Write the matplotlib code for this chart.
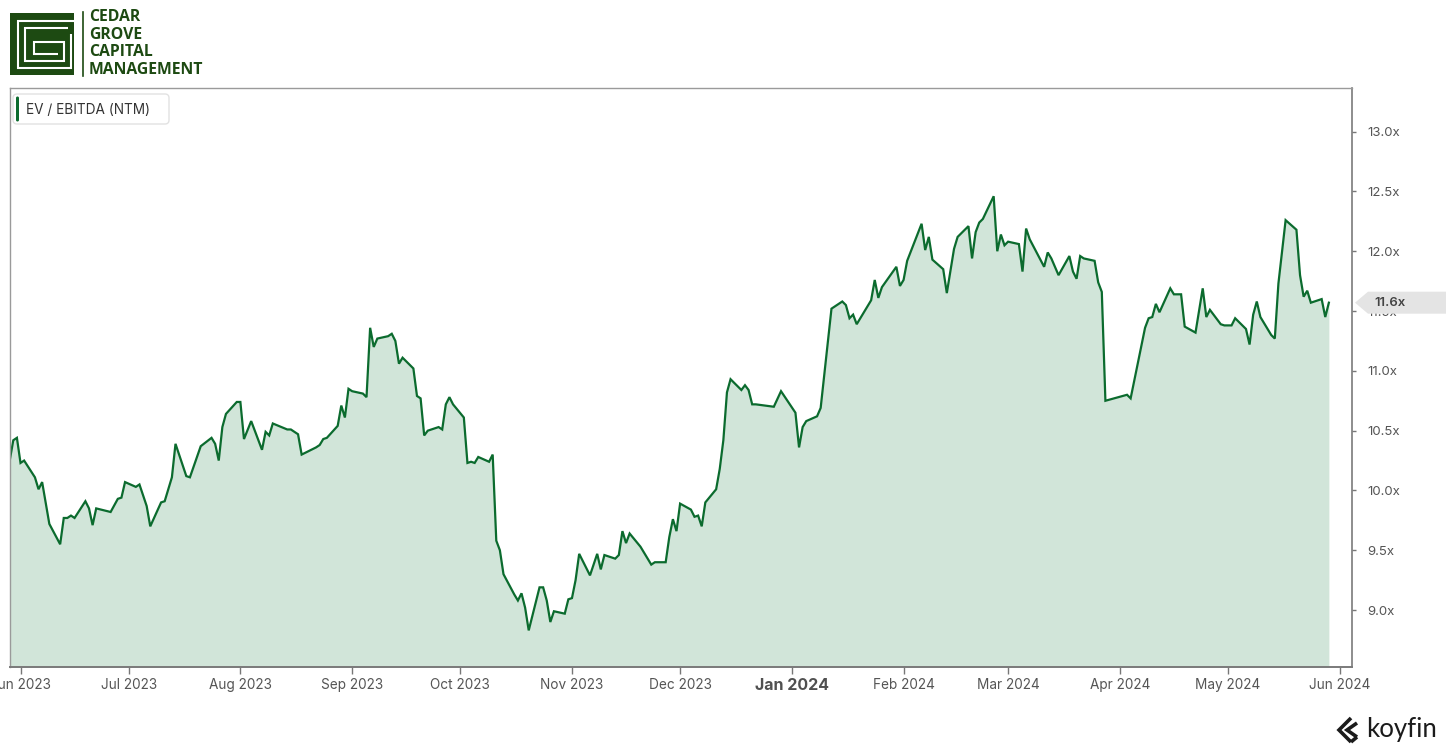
import pandas as pd
import numpy as np
import matplotlib
matplotlib.use("Agg")
import matplotlib.pyplot as plt
import matplotlib.dates as mdates
from matplotlib.patches import Polygon, FancyBboxPatch, Rectangle

# EV / EBITDA (NTM)
dates = [
    "2023-05-29", "2023-05-30", "2023-05-31", "2023-06-01", "2023-06-02", "2023-06-05",
    "2023-06-06", "2023-06-07", "2023-06-09", "2023-06-12", "2023-06-13", "2023-06-14",
    "2023-06-15", "2023-06-16", "2023-06-19", "2023-06-20", "2023-06-21", "2023-06-22",
    "2023-06-26", "2023-06-28", "2023-06-29", "2023-06-30", "2023-07-03", "2023-07-04",
    "2023-07-06", "2023-07-07", "2023-07-10", "2023-07-11", "2023-07-13", "2023-07-14",
    "2023-07-17", "2023-07-18", "2023-07-21", "2023-07-24", "2023-07-25", "2023-07-26",
    "2023-07-27", "2023-07-28", "2023-07-31", "2023-08-01", "2023-08-02", "2023-08-04",
    "2023-08-07", "2023-08-08", "2023-08-09", "2023-08-10", "2023-08-14", "2023-08-15",
    "2023-08-17", "2023-08-18", "2023-08-22", "2023-08-23", "2023-08-24", "2023-08-25",
    "2023-08-28", "2023-08-29", "2023-08-30", "2023-08-31", "2023-09-01", "2023-09-04",
    "2023-09-05", "2023-09-06", "2023-09-07", "2023-09-08", "2023-09-11", "2023-09-12",
    "2023-09-13", "2023-09-14", "2023-09-15", "2023-09-18", "2023-09-19", "2023-09-20",
    "2023-09-21", "2023-09-22", "2023-09-25", "2023-09-26", "2023-09-27", "2023-09-28",
    "2023-09-29", "2023-10-02", "2023-10-03", "2023-10-04", "2023-10-05", "2023-10-06",
    "2023-10-09", "2023-10-10", "2023-10-11", "2023-10-12", "2023-10-13", "2023-10-16",
    "2023-10-17", "2023-10-18", "2023-10-19", "2023-10-20", "2023-10-23", "2023-10-24",
    "2023-10-25", "2023-10-26", "2023-10-27", "2023-10-30", "2023-10-31", "2023-11-01",
    "2023-11-02", "2023-11-03", "2023-11-06", "2023-11-08", "2023-11-09", "2023-11-10",
    "2023-11-13", "2023-11-14", "2023-11-15", "2023-11-16", "2023-11-17", "2023-11-20",
    "2023-11-23", "2023-11-24", "2023-11-27", "2023-11-28", "2023-11-29", "2023-11-30",
    "2023-12-01", "2023-12-04", "2023-12-05", "2023-12-06", "2023-12-07", "2023-12-08",
    "2023-12-11", "2023-12-12", "2023-12-13", "2023-12-14", "2023-12-15", "2023-12-18",
    "2023-12-19", "2023-12-20", "2023-12-21", "2023-12-22", "2023-12-27", "2023-12-29",
    "2024-01-02", "2024-01-03", "2024-01-04", "2024-01-05", "2024-01-08", "2024-01-09",
    "2024-01-12", "2024-01-15", "2024-01-16", "2024-01-17", "2024-01-18", "2024-01-19",
    "2024-01-23", "2024-01-24", "2024-01-25", "2024-01-26", "2024-01-30", "2024-01-31",
    "2024-02-01", "2024-02-02", "2024-02-06", "2024-02-07", "2024-02-08", "2024-02-09",
    "2024-02-12", "2024-02-13", "2024-02-15", "2024-02-16", "2024-02-19", "2024-02-20",
    "2024-02-21", "2024-02-22", "2024-02-23", "2024-02-26", "2024-02-27", "2024-02-28",
    "2024-02-29", "2024-03-01", "2024-03-04", "2024-03-05", "2024-03-06", "2024-03-07",
    "2024-03-11", "2024-03-12", "2024-03-13", "2024-03-15", "2024-03-18", "2024-03-19",
    "2024-03-20", "2024-03-21", "2024-03-22", "2024-03-25", "2024-03-26", "2024-03-27",
    "2024-03-28", "2024-04-03", "2024-04-04", "2024-04-08", "2024-04-09", "2024-04-10",
    "2024-04-11", "2024-04-12", "2024-04-15", "2024-04-16", "2024-04-18", "2024-04-19",
    "2024-04-22", "2024-04-24", "2024-04-25", "2024-04-26", "2024-04-29", "2024-04-30",
    "2024-05-02", "2024-05-03", "2024-05-06", "2024-05-07", "2024-05-08", "2024-05-09",
    "2024-05-10", "2024-05-13", "2024-05-14", "2024-05-15", "2024-05-17", "2024-05-20",
    "2024-05-21", "2024-05-22", "2024-05-23", "2024-05-24", "2024-05-27", "2024-05-28",
    "2024-05-29",
]
ev_ebitda = [
    10.25, 10.42, 10.44, 10.23, 10.25, 10.11,
    10.01, 10.07, 9.72, 9.55, 9.77, 9.77,
    9.79, 9.77, 9.91, 9.85, 9.71, 9.85,
    9.82, 9.93, 9.94, 10.07, 10.03, 10.05,
    9.87, 9.70, 9.90, 9.91, 10.11, 10.39,
    10.12, 10.11, 10.37, 10.44, 10.39, 10.25,
    10.53, 10.64, 10.74, 10.74, 10.43, 10.58,
    10.34, 10.49, 10.46, 10.56, 10.51, 10.51,
    10.47, 10.30, 10.36, 10.38, 10.43, 10.44,
    10.54, 10.71, 10.61, 10.85, 10.83, 10.81,
    10.78, 11.36, 11.20, 11.27, 11.29, 11.31,
    11.25, 11.06, 11.11, 11.02, 10.79, 10.77,
    10.46, 10.50, 10.53, 10.51, 10.72, 10.78,
    10.72, 10.61, 10.23, 10.24, 10.23, 10.28,
    10.24, 10.30, 9.58, 9.50, 9.30, 9.13,
    9.08, 9.14, 9.02, 8.83, 9.19, 9.19,
    9.08, 8.90, 8.99, 8.97, 9.09, 9.10,
    9.25, 9.47, 9.29, 9.47, 9.34, 9.46,
    9.43, 9.46, 9.66, 9.56, 9.64, 9.53,
    9.38, 9.40, 9.40, 9.61, 9.76, 9.66,
    9.89, 9.84, 9.78, 9.79, 9.70, 9.90,
    10.01, 10.18, 10.42, 10.82, 10.93, 10.84,
    10.88, 10.84, 10.72, 10.72, 10.70, 10.83,
    10.65, 10.36, 10.53, 10.58, 10.62, 10.69,
    11.52, 11.58, 11.55, 11.44, 11.47, 11.39,
    11.59, 11.76, 11.61, 11.70, 11.87, 11.71,
    11.76, 11.92, 12.23, 12.01, 12.12, 11.93,
    11.85, 11.65, 12.02, 12.12, 12.21, 11.94,
    12.16, 12.24, 12.27, 12.46, 12.00, 12.14,
    12.05, 12.08, 12.06, 11.83, 12.19, 12.10,
    11.87, 11.99, 11.94, 11.80, 11.96, 11.83,
    11.77, 11.96, 11.94, 11.92, 11.74, 11.66,
    10.75, 10.80, 10.77, 11.36, 11.44, 11.45,
    11.56, 11.49, 11.69, 11.64, 11.64, 11.37,
    11.32, 11.69, 11.45, 11.51, 11.39, 11.38,
    11.38, 11.44, 11.35, 11.22, 11.47, 11.58,
    11.45, 11.30, 11.27, 11.73, 12.26, 12.18,
    11.80, 11.62, 11.67, 11.57, 11.60, 11.45,
    11.57,
]
y_ticks = [9.0, 9.5, 10.0, 10.5, 11.0, 11.5, 12.0, 12.5, 13.0]
month_ticks = pd.date_range("2023-06-01", "2024-06-01", freq="MS")
series_name = "EV / EBITDA (NTM)"
logo_lines = ["CEDAR", "GROVE", "CAPITAL", "MANAGEMENT"]

LINE = "#0b6b2e"
FILL = "#d1e5d9"
DARK = "#1d4a12"
GREY = "#555555"
W, H = 1456, 752

plt.rcParams["font.family"] = ["Inter", "DejaVu Sans"]

x = pd.to_datetime(dates)
fig = plt.figure(figsize=(W / 100, H / 100), dpi=100)
ax = fig.add_axes([10 / W, 1 - 667 / H, (1352 - 10) / W, (667 - 88) / H])

ymin, ymax = 8.524, 13.365
ax.fill_between(x, ev_ebitda, ymin, color=FILL, lw=0)
ax.plot(x, ev_ebitda, color=LINE, lw=1.6, solid_joinstyle="miter")
ax.set_ylim(ymin, ymax)
ax.set_xlim(mdates.date2num(pd.Timestamp("2023-05-29 02:00")),
            mdates.date2num(pd.Timestamp("2024-06-04 10:00")))

ax.yaxis.tick_right()
ax.set_yticks(y_ticks)
ax.set_yticklabels([f"{v:.1f}x" for v in y_ticks])
ax.tick_params(axis="y", length=3, width=1, color="#777777", labelsize=9.5,
               labelcolor=GREY, pad=8)
ax.set_xticks(month_ticks)
ax.set_xticklabels([d.strftime("%b %Y") for d in month_ticks])
ax.tick_params(axis="x", length=5, width=1, color="#777777", labelsize=9.8,
               labelcolor=GREY, pad=3)
for lab, d in zip(ax.get_xticklabels(), month_ticks):
    if d.month == 1:
        lab.set_fontweight("bold")
        lab.set_fontsize(11.5)
        lab.set_color("#505050")

for side in ["left", "top"]:
    ax.spines[side].set_color("#9a9a9a")
    ax.spines[side].set_linewidth(1.0)
ax.spines["right"].set_color("#7a7a7a")
ax.spines["bottom"].set_color("#7a7a7a")
ax.spines["right"].set_linewidth(1.2)
ax.spines["bottom"].set_linewidth(1.4)

# overlay in pixel coordinates for decorations
ov = fig.add_axes([0, 0, 1, 1], zorder=5)
ov.set_xlim(0, W)
ov.set_ylim(H, 0)
ov.axis("off")

# last-value marker
fig.canvas.draw()
_, yd = ax.transData.transform((ax.get_xlim()[1], ev_ebitda[-1]))
yc = H - yd
xa = 1352
ov.add_patch(Polygon([(xa + 3, yc), (xa + 16, yc - 11), (1446, yc - 11),
                      (1446, yc + 11), (xa + 16, yc + 11)],
                     closed=True, fc="#e4e4e4", ec="none"))
ov.text(xa + 22, yc, f"{ev_ebitda[-1]:.1f}x", ha="left", va="center",
        fontsize=9.5, color="#444444", fontweight="semibold")

# legend box
ov.add_patch(FancyBboxPatch((13, 94), 156, 30, boxstyle="round,pad=0,rounding_size=4",
                            fc="white", ec="#e2e2e2", lw=1))
ov.add_patch(FancyBboxPatch((16, 96.5), 3, 25, boxstyle="round,pad=0,rounding_size=1.5",
                            fc=LINE, ec="none"))
ov.text(26, 109.5, series_name, ha="left", va="center", fontsize=9.8, color="#333333")

# Cedar Grove logo emblem
ov.add_patch(Rectangle((10, 13), 64, 62, fc=DARK, ec="none"))
wl = dict(color="white", lw=1.5, solid_capstyle="butt", solid_joinstyle="miter")
ov.plot([74, 17.5, 17.5, 71, 71], [20.5, 20.5, 68, 68, 34], **wl)
ov.plot([68, 25, 25, 64, 64, 34, 34, 58], [28, 28, 61, 61, 42, 42, 54, 54], **wl)
ov.plot([82.5, 82.5], [12, 76], color=DARK, lw=1.2)
for i, t in enumerate(logo_lines):
    ov.text(89, 17 + i * 17.7, t, ha="left", va="center", fontsize=11.3,
            fontweight="bold", color=DARK, family=["Open Sans", "DejaVu Sans"])

# koyfin logo
kl = dict(color="#1b1b1b", lw=2.6, solid_capstyle="butt", solid_joinstyle="miter")
ov.plot([1351, 1339, 1351], [718, 730, 742], **kl)
ov.plot([1357, 1347, 1357], [723, 730, 737], **kl)
ov.plot([1351, 1357], [742, 737], **kl)
ov.text(1366, 729, "koyfin", ha="left", va="center", fontsize=18.5,
        color="#1b1b1b", family=["Lato", "DejaVu Sans"])

fig.savefig("out.png", dpi=100)
